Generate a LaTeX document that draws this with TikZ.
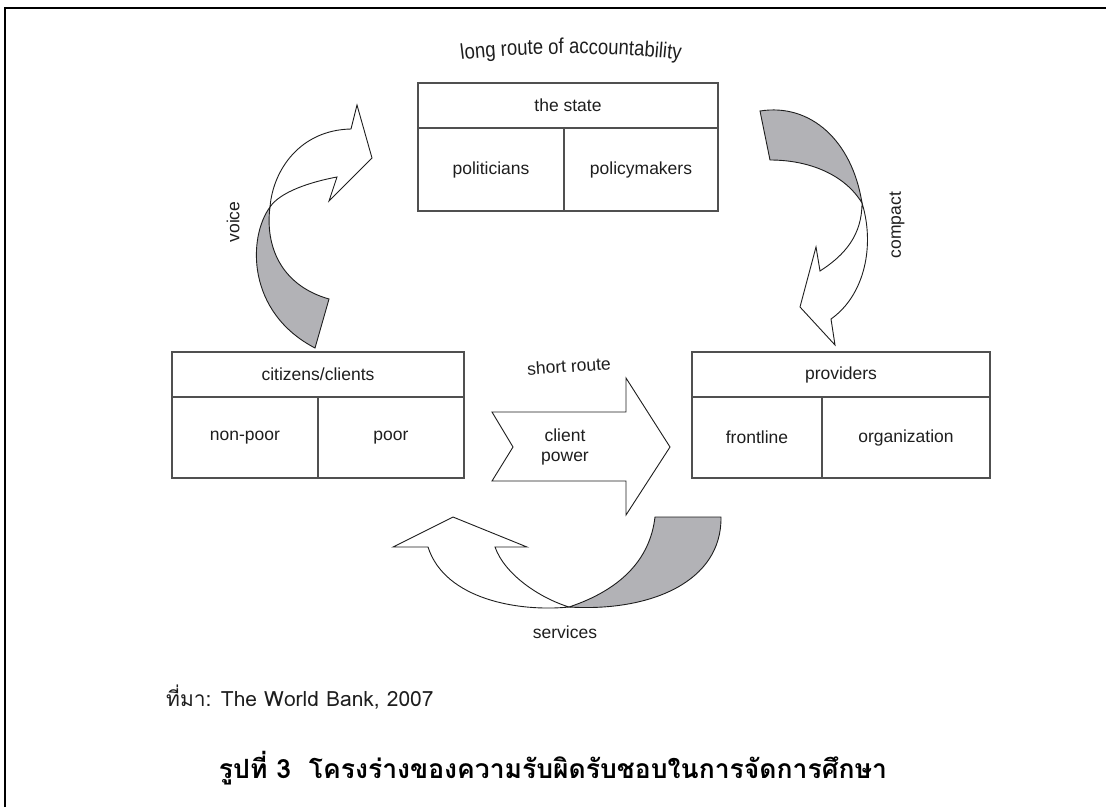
\documentclass[tikz,border=0pt]{standalone}
\usepackage{fontspec}
\setmainfont{Liberation Sans}
\newfontfamily\narrowfont{Liberation Sans}[FakeStretch=0.86]
\newfontfamily\thaifont[Script=Thai]{Loma}
\usetikzlibrary{decorations.text}
\definecolor{ribbon}{RGB}{178,178,182}
\definecolor{ink}{RGB}{30,30,30}
\definecolor{boxline}{RGB}{80,80,80}
\begin{document}
\begin{tikzpicture}[x=1pt,y=-1pt,
  cell/.style={draw=boxline, line width=1.2pt, inner sep=0pt, outer sep=0pt,
    font=\fontsize{17.5}{21}\selectfont, text=ink},
  lbl/.style={font=\fontsize{17.5}{21}\selectfont, text=ink, inner sep=0pt},
  band/.style={draw=ink, line width=0.9pt, line join=miter},
  whiteband/.style={band, fill=white},
  grayband/.style={band, fill=ribbon}]
\useasboundingbox (0,0) rectangle (1106,807);
% frame
\draw[line width=2pt, black] (5,807) -- (5,8) -- (1106,8);

% the state
\node[cell, minimum width=300pt, minimum height=45pt] (statehead) at (568,105.5) {the state};
\node[cell, minimum width=146pt, minimum height=83pt] (politicians) at (491,169.5) {politicians};
\node[cell, minimum width=154pt, minimum height=83pt] (policymakers) at (641,169.5) {policymakers};

% citizens
\node[cell, minimum width=292pt, minimum height=45pt] (cithead) at (318,374.5) {citizens/clients};
\node[cell, minimum width=146pt, minimum height=81pt] (nonpoor) at (245,437.5) {non-poor};
\node[cell, minimum width=146pt, minimum height=81pt] (poor) at (391,437.5) {poor};

% providers
\node[cell, minimum width=298pt, minimum height=45pt] (provhead) at (841,374.5) {providers};
\node[cell, minimum width=130pt, minimum height=81pt] (frontline) at (757,437.5) {frontline};
\node[cell, minimum width=168pt, minimum height=81pt] (organization) at (906,437.5) {organization};

% voice ribbon
\coordinate (pv) at (270,207);
\draw[grayband] (pv) .. controls (248,237) and (246,312) .. (315,348) -- (329,299)
  .. controls (280,285) and (265,245) .. (pv) -- cycle;
\draw[whiteband] (pv) .. controls (273,170) and (300,130) .. (351,129) -- (357,105) -- (372,158)
  -- (329,201) -- (337,177) .. controls (310,182) and (280,192) .. (pv) -- cycle;

% compact ribbon
\coordinate (pc) at (862,203);
\draw[grayband] (760,111) .. controls (810,103) and (852,140) .. (pc)
  .. controls (845,175) and (810,160) .. (770,160) -- cycle;
\draw[whiteband] (pc) .. controls (862,235) and (845,255) .. (820,271) -- (816,247) -- (800,307)
  -- (835,345) -- (831,319) .. controls (865,295) and (875,245) .. (pc) -- cycle;

% services ribbon
\coordinate (ps) at (569,607);
\draw[grayband] (ps) .. controls (620,590) and (650,560) .. (655,517) -- (721,517)
  .. controls (722,582) and (650,612) .. (ps) -- cycle;
\draw[whiteband] (ps) .. controls (520,612) and (445,600) .. (428,547) -- (393,547) -- (453,517)
  -- (527,547) -- (495,547) .. controls (505,575) and (540,598) .. (ps) -- cycle;

% short route arrow
\draw[whiteband] (492,412) -- (626,412) -- (626,378) -- (670,447) -- (626,515) -- (626,481)
  -- (492,481) -- (513,447) -- cycle;
\node[lbl, align=center] (clientpower) at (565,447) {client\\[-1pt]power};
\node[lbl, rotate=4] (shortroute) at (569,366) {short route};

% labels
\path[decorate, decoration={text along path, text align=center,
  text={|\narrowfont\fontsize{21.5}{25}\selectfont\color{ink}|long route of accountability}}]
  (452,61) .. controls (518,51.5) and (622,51.5) .. (690,61);
\node[lbl, rotate=90] (voice) at (233,222) {voice};
\node[lbl, rotate=90] (compact) at (897,225) {compact};
\node[lbl] (services) at (565,632) {services};

% source and caption
\node[anchor=base west, inner sep=0pt, font=\thaifont\fontsize{21}{25}\selectfont, text=ink]
  (source) at (166,706) {ที่มา: The World Bank, 2007};
\node[anchor=base, inner sep=0pt, font=\thaifont\bfseries\fontsize{26.5}{31}\selectfont, text=black]
  (caption) at (553,778) {รูปที่ 3~~โครงร่างของความรับผิดรับชอบในการจัดการศึกษา};
\end{tikzpicture}
\end{document}
